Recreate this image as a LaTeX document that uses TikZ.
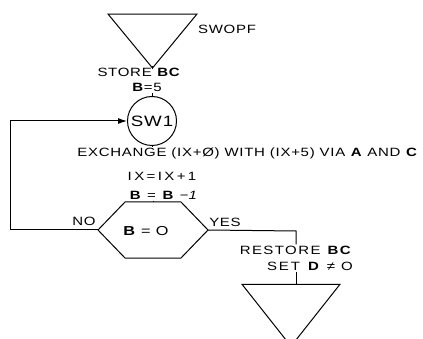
\documentclass[tikz,border=0pt]{standalone}
\usepackage{fontspec}
\setmainfont{Liberation Sans}[FakeStretch=1.25, LetterSpace=6]
\usetikzlibrary{arrows.meta, positioning, shapes.geometric}

\begin{document}
\begin{tikzpicture}[
    x=1pt, y=-1pt,
    font=\fontsize{12}{14}\selectfont,
    line width=1pt,
    >={Latex[length=9pt,width=6pt]},
    term/.style={draw, isosceles triangle, isosceles triangle stretches, shape border rotate=-90, inner sep=0pt},
    conn/.style={draw, circle, minimum size=49pt, inner sep=0pt, font=\fontsize{15}{17}\selectfont},
    txt/.style={inner sep=1pt},
    spread/.style={txt, font=\fontsize{12}{14}\selectfont\addfontfeature{LetterSpace=#1}},
    arrow/.style={->}
]
\useasboundingbox (0,0) rectangle (423,339);
% entry and exit
\node[term, minimum width=89pt, minimum height=54pt] (entry) at (152.5,35) {};
\node[txt] (name) at (227,29) {SWOPF};
\node[term, minimum width=98pt, minimum height=62pt] (exit) at (291,308) {};
% statements
\node[txt] (store) at (139,72) {STORE \textbf{BC}};
\node[txt] (bset) at (147,87) {\textbf{B}=5};
\node[conn] (sw) at (152,121) {SW1};
\node[txt] (xchg) at (247.5,153) {EXCHANGE (IX+Ø) WITH (IX+5) VIA \textbf{A} AND \textbf{C}};
\node[spread=20] (ixinc) at (162,176) {IX=IX+1};
\node[spread=10] (bdec) at (164,195) {\textbf{B} = \textbf{B} −\textit{1}};
% decision hexagon
\coordinate (testw) at (98,230);
\coordinate (teste) at (208,230);
\coordinate (testn) at (153,202);
\draw (testw) -- (125,202) -- (181,202) -- (teste) -- (181,258) -- (125,258) -- cycle;
\node[spread=22, font=\fontsize{13}{15}\selectfont] (test) at (146,231) {\textbf{B} = O};
\node[txt] (no) at (84,221) {NO};
\node[txt] (yes) at (225,222) {YES};
\node[spread=12] (rest) at (296,250) {RESTORE \textbf{BC}};
\node[spread=16] (setd) at (310,266) {SET \textbf{D} ≠ O};
\coordinate (loopl) at (10,230);
\coordinate (yesr) at (296,231);
% flow lines
\draw (entry.south) -- (entry.south |- store.north);
\draw (bset.south -| sw) -- (sw.north);
\draw (sw.south) -- (sw.south |- xchg.north);
\draw (bdec.south -| testn) -- (testn);
\draw (teste) -- (yesr) -- (yesr |- rest.north);
\draw (setd.south -| yesr) -- (exit.north -| yesr);
\draw[arrow] (testw) -- (loopl) |- (sw.west);
\end{tikzpicture}
\end{document}
